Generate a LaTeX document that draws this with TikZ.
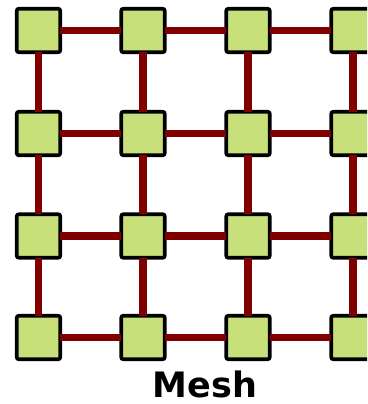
\documentclass[tikz,border=0pt]{standalone}
\usepackage{fontspec}
\setmainfont{DejaVu Sans}
\definecolor{nodegreen}{RGB}{200,224,122}
\definecolor{linkred}{RGB}{128,0,0}
\begin{document}
\begin{tikzpicture}[x=1pt,y=-1pt,
  router/.style={draw=black, line width=3.6pt, fill=nodegreen, rounded corners=2pt, minimum size=43.5pt, inner sep=0pt, outer sep=0pt},
  link/.style={draw=linkred, line width=7.7pt}]
\useasboundingbox (0,0) rectangle (367,404);
\clip (0,0) rectangle (367,404);
\foreach \c/\x in {1/38.5,2/143,3/248,4/353}{
  \foreach \r/\y in {1/30.5,2/133.5,3/236,4/337.5}{
    \node[router] (n\c\r) at (\x,\y) {};
  }
}
\foreach \c in {1,2,3,4}{
  \draw[link] (n\c1) -- (n\c2);
  \draw[link] (n\c2) -- (n\c3);
  \draw[link] (n\c3) -- (n\c4);
}
\foreach \r in {1,2,3,4}{
  \draw[link] (n1\r) -- (n2\r);
  \draw[link] (n2\r) -- (n3\r);
  \draw[link] (n3\r) -- (n4\r);
}
\node[anchor=base, font=\fontsize{35}{40}\selectfont\bfseries, inner sep=0pt] (title) at (205,397) {Mesh};
\end{tikzpicture}
\end{document}
